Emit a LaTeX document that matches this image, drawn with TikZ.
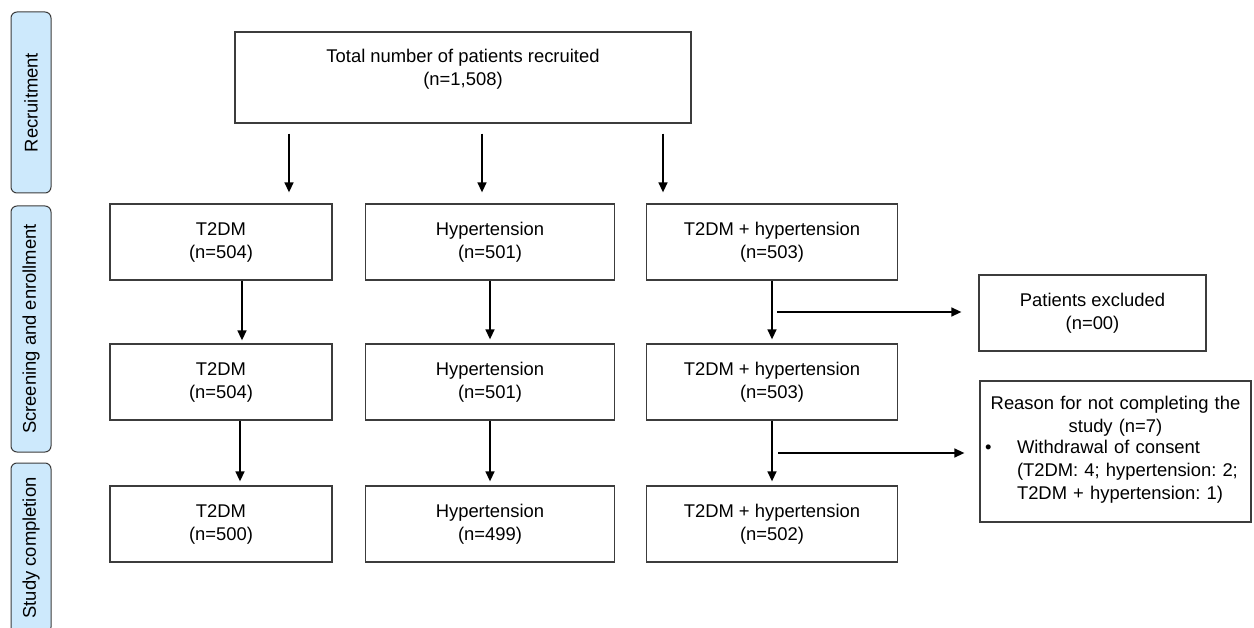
\documentclass[tikz,border=0pt]{standalone}
\usepackage{fontspec}
\setmainfont{Liberation Sans}
\usetikzlibrary{arrows.meta,calc,positioning}
\definecolor{phaseblue}{RGB}{205,233,252}
\definecolor{edgegray}{RGB}{60,60,60}
\frenchspacing

\begin{document}
\begin{tikzpicture}[x=1pt,y=-1pt,
  txt/.style={align=center,font=\fontsize{18.4}{23}\selectfont},
  box/.style={txt,draw=edgegray,line width=1.3pt,minimum height=76pt,inner sep=0pt},
  phase/.style={txt,draw=edgegray,fill=phaseblue,line width=1pt,rounded corners=6pt,
    rotate=90,minimum height=40pt,inner sep=0pt},
  arr/.style={line width=1.5pt,-{Triangle[length=10pt,width=9pt]}}]
  \useasboundingbox (0,0) rectangle (1254,628);
  % phases
  \node[phase,minimum width=181pt] (recr) at (31,102.5) {Recruitment};
  \node[phase,minimum width=246pt] (scr) at (31,329) {Screening and enrollment};
  \node[phase,minimum width=170pt] (compl) at (31,548) {Study completion};
  % recruited
  \node[box,minimum width=456pt,minimum height=91pt] (total) at (463,77.5) {};
  \node[txt] (totaltxt) at (463,69.5) {Total number of patients recruited\\(n=1,508)};
  % groups
  \foreach \r/\y/\a/\b/\c in {1/242/504/501/503,2/382/504/501/503,3/524/500/499/502}{
    \node[box,minimum width=222pt] (t\r) at (221,\y) {T2DM\\(n=\a)};
    \node[box,minimum width=249pt] (h\r) at (490,\y) {Hypertension\\(n=\b)};
    \node[box,minimum width=251pt] (c\r) at (772,\y) {T2DM + hypertension\\(n=\c)};
  }
  \node[box,minimum width=227pt] (excl) at (1092.5,313) {Patients excluded\\(n=00)};
  \node[box,minimum width=271pt,minimum height=141pt,text width=261pt,align=left]
    (reason) at (1115.5,451.5) {\centering Reason for not completing the\\study (n=7)\par
    \raggedright\begin{tabular}{@{}p{32pt}@{}l@{}}
      \textbullet & Withdrawal of consent\\
      & (T2DM: 4; hypertension: 2;\\
      & T2DM + hypertension: 1)
    \end{tabular}};
  % arrows from top box
  \coordinate (p1) at ([xshift=68pt]t1.north);
  \coordinate (p2) at ([xshift=-8pt]h1.north);
  \coordinate (p3) at ([xshift=-109pt]c1.north);
  \foreach \p in {p1,p2,p3}
    \draw[arr,shorten <=10pt,shorten >=11pt] (total.south -| \p) -- (\p);
  % down the columns
  \draw[arr,shorten >=3pt] ([xshift=21pt]t1.south) -- ([xshift=21pt]t2.north);
  \draw[arr,shorten >=4pt] ([xshift=19pt]t2.south) -- ([xshift=19pt]t3.north);
  \foreach \a/\b in {h1/h2,h2/h3,c1/c2,c2/c3}
    \draw[arr,shorten >=4pt] (\a.south) -- (\b.north);
  % side arrows
  \coordinate (s1) at ($(c1.south)!0.5!(c2.north)$);
  \coordinate (s2) at ($(c2.south)!0.5!(c3.north)$);
  \draw[arr,shorten <=5pt,shorten >=17pt] (s1) -- (s1 -| excl.west);
  \draw[arr,shorten <=6pt,shorten >=15pt] (s2) -- (s2 -| reason.west);
\end{tikzpicture}
\end{document}
